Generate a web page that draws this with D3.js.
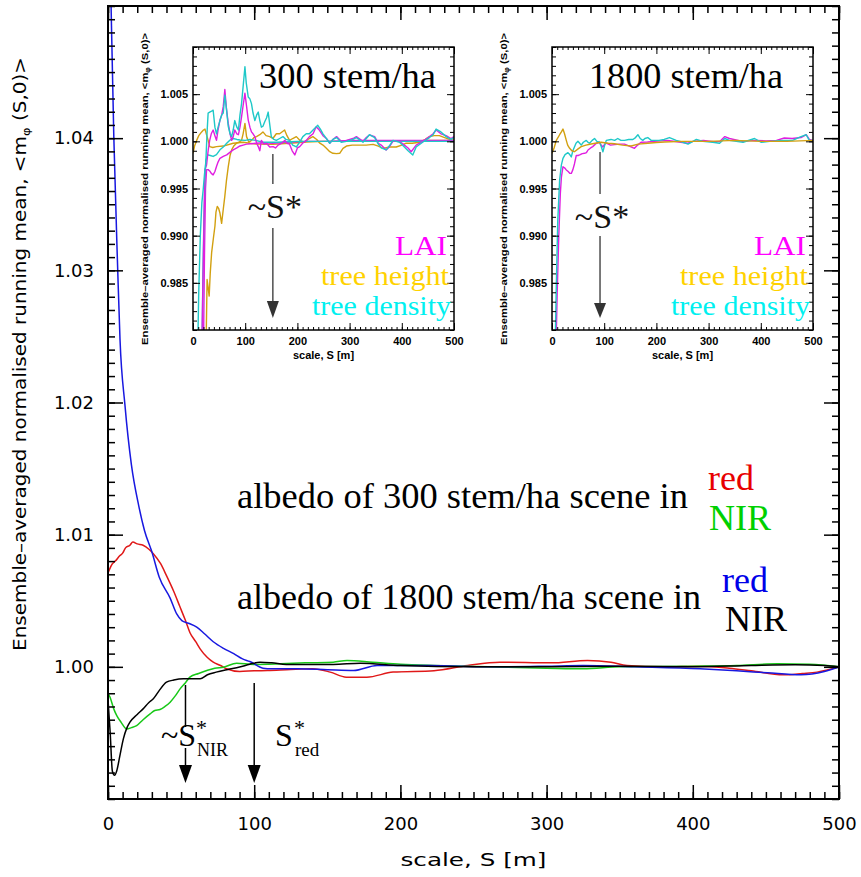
<!DOCTYPE html>
<html><head><meta charset="utf-8">
<script src="https://cdn.jsdelivr.net/npm/d3@7"></script>
<style>body{margin:0;background:#fff} svg{display:block}</style>
</head><body><svg id="c" width="861" height="877"></svg>
<script>
// ---------------- DATA ----------------
const mainXTicks = [0, 100, 200, 300, 400, 500];
const mainYTicks = [1.00, 1.01, 1.02, 1.03, 1.04];
const insetXTicks = [0, 100, 200, 300, 400, 500];
const insetYTicks = [0.985, 0.990, 0.995, 1.000, 1.005];

// main panel: albedo running means  [S, value]
const albedo300Red = [[0,1.0071],[3,1.0078],[5,1.0080],[8,1.0084],[10,1.0086],[12,1.0090],[15,1.0092],[17,1.00945],[20,1.0093],[24,1.0092],[28,1.0089],[31,1.00856],[36,1.0078],[40,1.0069],[45,1.0057],[49,1.0046],[53,1.0035],[56,1.0026],[60,1.0019],[63,1.00136],[68,1.0007],[72,1.00035],[77,1.0001],[81,0.99985],[90,0.99965],[100,0.9997],[109,0.99972],[125,0.9998],[140,0.99985],[152,0.9996],[163,0.99922],[177,0.99922],[195,0.9996],[223,0.9997],[246,1.0001],[268,1.00035],[303,1.0003],[328,1.00048],[344,1.00035],[355,1.0001],[380,1.0000],[405,1.00005],[425,0.9999],[440,0.9997],[462,0.9994],[475,0.9995],[485,0.9996],[500,1.0000]];
const albedo300NIR = [[0,0.9980],[1.4,0.9977],[4,0.9968],[6,0.99631],[9,0.9958],[12.8,0.9953],[16,0.9954],[19.6,0.99555],[24,0.9960],[28.8,0.99644],[32,0.9967],[35.6,0.99677],[39,0.9970],[42.5,0.99732],[46,0.9978],[49.3,0.99833],[53,0.9988],[56,0.99922],[62,0.9995],[67.6,0.99972],[73,0.9999],[79,0.99997],[88,1.00028],[99.5,1.00018],[118,1.00023],[135,1.0003],[154,1.00035],[163.5,1.00048],[181,1.00035],[200,1.0002],[223,1.0001],[260,1.0000],[300,0.9999],[325,0.99985],[350,1.0000],[400,1.00005],[430,1.0001],[458,1.00023],[480,1.0002],[500,1.0000]];
const albedo1800Red = [[0,1.062],[2,1.0506],[4,1.0400],[6.6,1.0302],[8.2,1.0248],[11.6,1.0198],[16,1.0153],[21,1.0122],[25,1.0103],[30,1.0087],[35,1.0068],[42.5,1.0052],[47,1.0040],[50.5,1.0035],[55,1.0033],[60.7,1.0030],[66,1.0025],[72,1.0019],[79,1.0014],[86,1.0010],[92,1.0006],[97,1.0004],[106,0.9999],[112,0.99985],[130,0.99985],[150,0.99978],[168,0.99972],[184,1.0001],[220,1.0001],[260,1.0000],[300,1.00005],[325,1.0001],[360,1.0000],[405,0.99985],[430,0.9997],[451,0.99955],[474,0.9994],[490,0.99965],[500,1.0000]];
const albedo1800NIR = [[0,0.9975],[1.5,0.9950],[3,0.9921],[4.5,0.9918],[6,0.99214],[8,0.9932],[10.5,0.99455],[13,0.9954],[15,0.99581],[20,0.9964],[24,0.99682],[28,0.9973],[31,0.99758],[35,0.9982],[40,0.99884],[45,0.9990],[51.6,0.99909],[58,0.99909],[63,0.99909],[68,0.9994],[74,0.9996],[82,0.9998],[90,0.99998],[97,1.0002],[104,1.00035],[112,1.0003],[122,1.00018],[154,1.00018],[172.6,1.00028],[200,1.0001],[250,1.0000],[300,1.0000],[350,1.00005],[400,1.0000],[440,1.0001],[470,1.00015],[490,1.0001],[500,1.0000]];

// inset 300 stem/ha
const lai300a = [[16,0.975],[19,0.985],[22.9,0.997],[26,0.9975],[29,0.999],[32,1.0001],[35,1.0008],[38.6,1.0012],[42,1.0006],[45,1.0001],[48,1.0012],[51.6,1.00225],[55,1.0028],[58,1.0037],[61,1.0055],[64,1.0035],[67.5,1.0019],[71,1.0008],[74,1.0001],[77,1.0005],[80,1.0012],[84,1.0008],[87,1.0007],[90,1.0015],[93,1.0026],[96,1.0038],[99.5,1.0051],[102,1.0040],[105.8,1.00225],[109,1.0015],[112,1.001],[115,1.0008],[118.5,1.0005],[122,0.9998],[125,0.99944],[128,0.9990],[131,1.0001],[136,0.9997],[140.8,0.9998],[147,0.9994],[153.5,0.99944],[158,0.9993],[163,0.9996],[170,0.9998],[176,1.0001],[180,0.9998],[185,0.9997],[190,0.9990],[195,0.99856],[200,0.9993],[204.5,0.99944],[210,0.9998],[217,1.0001],[223,1.0005],[230,1.0008],[236,1.00155],[242,1.0012],[249,1.0006],[255.5,1.0003],[262,0.9998],[268,1.0002],[275,1.0005],[284,1.0000],[294,1.0001],[306.5,1.0003],[313,1.0005],[325.6,1.0000],[332,1.0004],[338,1.00067],[348,1.0005],[355,0.9998],[360.6,0.9996],[370,0.99908],[376,0.9994],[383,1.0000],[395.7,1.0000],[405,0.9996],[412,0.9993],[418,0.9989],[427.5,0.9996],[440,1.0000],[453,1.0005],[460,1.0008],[465.7,1.0012],[475,1.0008],[485,1.0006],[494,1.0003],[500,1.0005]];
const lai300b = [[19.5,0.975],[22,0.988],[24,0.995],[26,0.997],[29,0.9970],[32,0.99686],[35,0.9966],[38.6,0.99644],[42,0.9968],[45,0.99733],[48,0.9978],[51.6,0.9982],[58,0.9984],[64.6,0.99856],[70,0.9988],[77,0.9991],[84,0.9993],[90,0.99951],[96,0.9996],[102.6,0.9997],[112,0.99975],[121.6,0.9998],[135,0.99985],[153,0.9998],[180,0.9999],[220,1.0000],[260,1.0000],[300,1.0001],[350,1.0001],[400,1.0001],[450,1.0001],[500,1.0001]];
const height300a = [[24,0.975],[25.5,0.980],[27,0.98535],[29,0.9845],[31,0.9836],[33,0.9860],[35.7,0.9882],[39,0.9897],[42,0.991],[44,0.9925],[46.5,0.9931],[49,0.9929],[51.6,0.9924],[54.8,0.9913],[58,0.9928],[61,0.9942],[64,0.9958],[67.5,0.9973],[71,0.9985],[74,0.9991],[78,0.9995],[83.3,0.9998],[88,0.9999],[93,1.0001],[96,1.0008],[99.5,1.0019],[102.6,1.0005],[107,0.9999],[112,1.0001],[117,1.0004],[121.6,1.0005],[128,1.0007],[134,1.001],[140,1.0006],[147,1.0005],[153,1.0003],[159.6,1.0008],[166,1.0008],[175.5,1.0012],[180,1.0006],[185,1.0001],[191,1.0003],[198,1.0005],[205,1.0001],[213.8,0.9999],[220,1.0002],[229.7,1.0005],[237,1.0002],[243,0.9998],[249,0.9996],[255.5,0.99926],[262,0.9989],[268,0.99873],[275,0.9987],[281,0.99873],[287.4,0.99926],[294,0.9995],[305,0.9996],[319,0.9996],[332,0.9996],[345,0.99968],[355,0.9995],[364,0.99926],[376.6,0.9994],[389.3,0.9994],[400,0.9996],[408.5,0.9998],[420,0.9998],[434,0.9999],[445,1.0002],[453,1.0005],[462,1.0006],[472,1.0006],[482,1.0004],[491.4,1.0002],[500,1.0001]];
const height300b = [[0,0.99873],[3,0.9995],[7,1.0001],[11,1.0006],[16.6,1.001],[20,1.0012],[23,1.0013],[26,1.0007],[29,1.0001],[32,0.99944],[38,0.99935],[45,0.99944],[58,0.9995],[77,0.9998],[96,0.9999],[121.6,0.9997],[153,0.99968],[185,0.9998],[217,0.99993],[250,1.0000],[300,1.0000],[350,1.00002],[400,1.0000],[450,1.0001],[500,1.0001]];
const density300a = [[8,0.975],[11,0.984],[14,0.990],[17,0.9935],[19.5,0.99486],[22,0.9965],[24.5,0.9977],[27,1.0010],[29,1.003],[32,1.0031],[35.7,1.0032],[38.6,1.0033],[42,1.0015],[45,1.0008],[48,1.0015],[51.6,1.0022],[55,1.0028],[58,1.0030],[61,1.0049],[64,1.0035],[67.5,1.0016],[71,1.0008],[74,1.0005],[77,1.0012],[80,1.0022],[84,1.0015],[87,1.0012],[90,1.0028],[93,1.0040],[96,1.0058],[99.5,1.0079],[102,1.0062],[105.8,1.0047],[109,1.0045],[112,1.0040],[115,1.0030],[118.5,1.0022],[122,1.0028],[125,1.0031],[128,1.0022],[131,1.0015],[134,1.0016],[137.6,1.0021],[141,1.0025],[144,1.0031],[147,1.0018],[150,1.0005],[155,1.0002],[159.6,1.0001],[166,1.0003],[172.4,1.0005],[178,1.0002],[185,1.0001],[191,0.9996],[198,0.9994],[204,0.9999],[210.5,1.0005],[217,1.0008],[223,1.0008],[230,1.0012],[239,1.0017],[244,1.0013],[249,1.0008],[255.5,1.0003],[262,0.9998],[268,1.0002],[275,1.0004],[284,0.9999],[294,1.0000],[306.5,1.0002],[313,1.0004],[325.6,0.9999],[332,1.0003],[338,1.0007],[348,1.0004],[355,0.9997],[360.6,0.9993],[370,0.9991],[376,0.9995],[383,1.0001],[395.7,0.9999],[405,0.9994],[412,0.9990],[421,0.99856],[427.5,0.9994],[440,0.9999],[453,1.0004],[460,1.0007],[465.7,1.0013],[475,1.0010],[485,1.0005],[494,1.0002],[500,1.0004]];
const density300b = [[16.6,0.975],[19,0.986],[21,0.992],[23,0.996],[24.5,0.99796],[27,0.9984],[29,0.99856],[33,0.9985],[38.6,0.9984],[45,0.9986],[51.6,0.9991],[58,0.9994],[64.6,0.99979],[70,1.0001],[77,1.0003],[84,1.0002],[90,1.00014],[100,1.0001],[109,1.0002],[120,1.0001],[134,0.9999],[159.6,0.9999],[200,1.0000],[250,1.0000],[300,1.0000],[350,1.0000],[400,1.0000],[450,1.0000],[500,1.0000]];

// inset 1800 stem/ha
const lai1800 = [[6.4,0.975],[10,0.984],[13,0.990],[16,0.9945],[18,0.9962],[21,0.9973],[24,0.9972],[27.4,0.99697],[31,0.9968],[34,0.99662],[37,0.9966],[40,0.9970],[43,0.9976],[46.5,0.9985],[50,0.9985],[53,0.99856],[58,0.9987],[62.4,0.99873],[66,0.9988],[69,0.99908],[74,0.9993],[78,0.99944],[85,0.9998],[91,0.9999],[94,0.9996],[97.5,0.9994],[101,0.9997],[104,0.9998],[112,0.9996],[120,0.99965],[130,0.9997],[139,0.9997],[148,0.9995],[158,0.99926],[164,0.9996],[170.6,0.9999],[183,0.99993],[196,1.0000],[221,1.0001],[240,0.99995],[260,0.9998],[270,1.0000],[290,1.0001],[310,0.99995],[322,1.0000],[331,1.0005],[340,1.0003],[365,1.0000],[390,1.0001],[410,1.00005],[430,1.0001],[445,1.00035],[460,1.0003],[477,1.0004],[487,1.0007],[493,1.0002],[500,1.0001]];
const height1800 = [[0,0.99873],[4,0.9993],[8.3,1.0001],[14.6,1.0007],[18,1.0010],[21,1.0013],[24,1.0008],[27.4,1.0001],[30,0.9996],[33.8,0.99926],[38,0.9990],[43,0.9989],[50,0.9992],[56,0.99944],[65,0.9996],[75,0.99972],[94,0.9999],[108,0.9998],[120,0.99975],[135,0.9996],[151.6,0.9995],[165,0.9997],[183.5,0.9998],[200,0.99988],[215,0.99993],[250,1.0000],[300,1.0000],[350,1.0001],[400,1.0000],[450,1.0000],[500,1.0001]];
const density1800 = [[5,0.975],[8,0.984],[11,0.9915],[14.6,0.9959],[18,0.9975],[21,0.9982],[25,0.9986],[30.6,0.9988],[34,0.9986],[37,0.99835],[40,0.9990],[43,0.9994],[46,0.9998],[49.7,1.0000],[53,0.9998],[56,0.9996],[60,0.9999],[65.6,1.0001],[69,0.9999],[72,0.9998],[77,1.0001],[81.5,1.0003],[86,1.0000],[91,0.9999],[94,0.9995],[97.5,0.9989],[101,0.9996],[104,1.0001],[113,1.0002],[120,1.0001],[126,1.0003],[132,1.0001],[139,1.0001],[147,1.0002],[155,1.0002],[160,1.0004],[164.6,1.0007],[169,1.0003],[174,1.0001],[178,1.0003],[183.5,1.0004],[190,1.0001],[196,1.0001],[205,1.0001],[215,1.0002],[225,1.0004],[238,1.0001],[251,0.9999],[260.6,0.9997],[270,1.0000],[276.6,1.0002],[289,1.0000],[308,0.9999],[321,0.9998],[331,1.0003],[340,1.0001],[366,0.9999],[388,1.0003],[401,0.9999],[417,1.0000],[442,1.0001],[461,1.0001],[477,1.0005],[487,1.0007],[493,1.0001],[500,1.0001]];

// S* markers
const sStarNIR = 53, sStarRed = 100, sStar300 = 153, sStar1800 = 92;

// ---------------- DRAWING ----------------
const svg = d3.select("#c");
const defs = svg.append("defs");
const SERIF = "'Liberation Serif','Times New Roman',serif";
const SANS = "'DejaVu Sans',sans-serif";
const BOLD = "'Liberation Sans',Arial,sans-serif";

function idlAxes(g, x, y, o) {
  const [x0, x1] = x.range(), [y0, y1] = y.range(); // y0 bottom
  const xMinor = d3.range(x.domain()[0], x.domain()[1] + 1e-9, o.xMinorStep);
  const yMinor = d3.range(0, Math.round((y.domain()[1] - y.domain()[0]) / o.yMinorStep) + 1).map(i => y.domain()[0] + i * o.yMinorStep);
  const style = s => s.call(a => a.select(".domain").remove())
    .call(a => a.selectAll("line").attr("stroke", "#000").attr("stroke-width", o.tw));
  const lbl = a => a.selectAll("text").attr("font-family", o.font).attr("font-size", o.fs).attr("font-weight", o.fw).attr("fill", "#000");
  g.append("g").attr("transform", `translate(0,${y0})`)
    .call(d3.axisBottom(x).tickValues(xMinor).tickSize(-o.minX).tickFormat("")).call(style);
  g.append("g").attr("transform", `translate(0,${y0})`)
    .call(d3.axisBottom(x).tickValues(o.xMajor).tickSize(-o.majX).tickPadding(o.padX).tickFormat(d3.format("d"))).call(style).call(lbl);
  g.append("g").attr("transform", `translate(0,${y1})`)
    .call(d3.axisTop(x).tickValues(xMinor).tickSize(-o.minX).tickFormat("")).call(style);
  g.append("g").attr("transform", `translate(0,${y1})`)
    .call(d3.axisTop(x).tickValues(o.xMajor).tickSize(-o.majX).tickFormat("")).call(style);
  g.append("g").attr("transform", `translate(${x0},0)`)
    .call(d3.axisLeft(y).tickValues(yMinor).tickSize(-o.minY).tickFormat("")).call(style);
  g.append("g").attr("transform", `translate(${x0},0)`)
    .call(d3.axisLeft(y).tickValues(o.yMajor).tickSize(-o.majY).tickPadding(o.padY).tickFormat(d3.format(o.yFmt))).call(style).call(lbl);
  g.append("g").attr("transform", `translate(${x1},0)`)
    .call(d3.axisRight(y).tickValues(yMinor).tickSize(-o.minY).tickFormat("")).call(style);
  g.append("g").attr("transform", `translate(${x1},0)`)
    .call(d3.axisRight(y).tickValues(o.yMajor).tickSize(-o.majY).tickFormat("")).call(style);
  g.append("rect").attr("x", x0).attr("y", y1).attr("width", x1 - x0).attr("height", y0 - y1)
    .attr("fill", "none").attr("stroke", "#000").attr("stroke-width", o.fw_frame);
}

function arrow(g, xp, segs, headTop, headBot, w, col, sw) {
  segs.forEach(([a, b]) => g.append("line").attr("x1", xp).attr("x2", xp).attr("y1", a).attr("y2", b)
    .attr("stroke", col).attr("stroke-width", sw));
  g.append("path").attr("d", `M${xp - w / 2},${headTop}L${xp + w / 2},${headTop}L${xp},${headBot}Z`).attr("fill", col);
}

// ---- main panel ----
const M = { l: 108, r: 839, t: 6, b: 799 };
const x = d3.scaleLinear().domain([0, 500]).range([M.l, M.r]);
const y = d3.scaleLinear().domain([0.990, 1.050]).range([M.b, M.t]);
const main = svg.append("g");
defs.append("clipPath").attr("id", "clipMain").append("rect")
  .attr("x", M.l).attr("y", M.t).attr("width", M.r - M.l).attr("height", M.b - M.t);

const lineMain = d3.line().x(d => x(d[0])).y(d => y(d[1])).curve(d3.curveMonotoneX);
const mainSeries = [
  [albedo300Red, "#e01818"], [albedo300NIR, "#18c818"], [albedo1800Red, "#1818e0"], [albedo1800NIR, "#000"]
];
const mg = main.append("g").attr("clip-path", "url(#clipMain)");
mainSeries.forEach(([d, c]) => mg.append("path").datum(d).attr("d", lineMain)
  .attr("fill", "none").attr("stroke", c).attr("stroke-width", 1.5));

idlAxes(main, x, y, {
  xMajor: mainXTicks, yMajor: mainYTicks, xMinorStep: 10, yMinorStep: 0.001,
  majX: 14, minX: 7, majY: 15, minY: 7, padX: 18, padY: 14, yFmt: ".2f",
  font: SANS, fs: 18, fw: "normal", tw: 1.5, fw_frame: 2
});

// axis titles
svg.append("text").attr("x", (M.l + M.r) / 2).attr("y", 866).attr("text-anchor", "middle")
  .attr("font-family", SANS).attr("font-size", 18).attr("textLength", 146).attr("lengthAdjust", "spacingAndGlyphs")
  .text("scale, S [m]");
const yl = svg.append("text").attr("transform", "translate(26,354) rotate(-90)").attr("text-anchor", "middle")
  .attr("font-family", SANS).attr("font-size", 17).attr("textLength", 594).attr("lengthAdjust", "spacingAndGlyphs");
yl.append("tspan").text("Ensemble\u2013averaged normalised running mean, <m");
yl.append("tspan").attr("font-size", 11).attr("dy", 4).text("\u03c6");
yl.append("tspan").attr("dy", -4).text(" (S,0)>");

// main annotations
const ann = (t, xp, yp, col, fs, len) => {
  const e = svg.append("text").attr("x", xp).attr("y", yp).attr("font-family", SERIF).attr("font-size", fs).attr("fill", col).text(t);
  if (len) e.attr("textLength", len).attr("lengthAdjust", "spacingAndGlyphs");
  return e;
};
ann("albedo of 300 stem/ha scene in", 237, 508, "#000", 36, 451);
ann("red", 708, 490, "#e80000", 36);
ann("NIR", 709, 530, "#00d000", 36);
ann("albedo of 1800 stem/ha scene in", 237, 609, "#000", 36, 464);
ann("red", 722, 592, "#0000e8", 36);
ann("NIR", 725, 631, "#000", 36);

// S* labels: star as superscript, label as subscript beneath it
function sStarLabel(xp, mainT, sub, subFs, starX) {
  ann(mainT, xp, 746, "#000", 32);
  ann("*", starX, 735, "#000", 22);
  ann(sub, starX + 1, 756, "#000", subFs);
}
sStarLabel(161, "~S", "NIR", 18, 196);
sStarLabel(275, "S", "red", 19, 294);
arrow(svg, x(sStarNIR), [[685, 727], [748, 766]], 765, 783, 13, "#000", 1.5);
arrow(svg, x(sStarRed), [[683, 766]], 765, 783, 13, "#000", 1.5);

// ---- insets ----
function inset(x0px, x1px, title, series, sStar, starY, arrowSegs, ylCx) {
  const T = 47, B = 330;
  const xi = d3.scaleLinear().domain([0, 500]).range([x0px, x1px]);
  const yi = d3.scaleLinear().domain([0.980, 1.010]).range([B, T]);
  const g = svg.append("g");
  g.append("rect").attr("x", x0px).attr("y", T).attr("width", x1px - x0px).attr("height", B - T).attr("fill", "#fff");
  const id = "clip" + Math.round(x0px);
  defs.append("clipPath").attr("id", id).append("rect")
    .attr("x", x0px).attr("y", T).attr("width", x1px - x0px).attr("height", B - T);
  const li = d3.line().x(d => xi(d[0])).y(d => yi(d[1]));
  const lg = g.append("g").attr("clip-path", `url(#${id})`);
  series.forEach(([d, c]) => lg.append("path").datum(d).attr("d", li)
    .attr("fill", "none").attr("stroke", c).attr("stroke-width", 1.4).attr("stroke-linejoin", "round"));
  idlAxes(g, xi, yi, {
    xMajor: insetXTicks, yMajor: insetYTicks, xMinorStep: 10, yMinorStep: 0.001,
    majX: 7, minX: 3, majY: 7, minY: 4, padX: 7, padY: 5, yFmt: ".3f",
    font: BOLD, fs: 11, fw: "bold", tw: 1, fw_frame: 1.5
  });
  g.append("text").attr("x", (x0px + x1px) / 2).attr("y", 359).attr("text-anchor", "middle")
    .attr("font-family", BOLD).attr("font-weight", "bold").attr("font-size", 11).text("scale, S [m]");
  const t = g.append("text").attr("transform", `translate(${ylCx},189) rotate(-90)`).attr("text-anchor", "middle")
    .attr("font-family", BOLD).attr("font-weight", "bold").attr("font-size", 9.5)
    .attr("textLength", 312).attr("lengthAdjust", "spacingAndGlyphs");
  t.append("tspan").text("Ensemble\u2013averaged normalised running mean, <m");
  t.append("tspan").attr("font-size", 6.5).attr("dy", 2).text("\u03c6");
  t.append("tspan").attr("dy", -2).text(" (S,0)>");
  g.append("text").attr("x", title.x).attr("y", 88).attr("font-family", SERIF).attr("font-size", 36)
    .attr("textLength", title.w).attr("lengthAdjust", "spacingAndGlyphs").text(title.t);
  const sx = xi(sStar);
  g.append("text").attr("x", sx + 2).attr("y", starY).attr("text-anchor", "middle").attr("font-family", SERIF)
    .attr("font-size", 34).attr("fill", "#111").text("~S*");
  arrow(g, sx, arrowSegs, arrowSegs[1][1], 318, 12, "#333", 1.3);
  // legend
  const lgx = x1px - 7;
  [["LAI", "#ff00ff", 255, 52], ["tree height", "#ffd200", 285, 128], ["tree density", "#00f0f0", 315, 139]].forEach(([s, c, yy, w], i) =>
    g.append("text").attr("x", lgx + i * 2).attr("y", yy).attr("text-anchor", "end").attr("font-family", SERIF)
      .attr("font-size", 27).attr("textLength", w).attr("lengthAdjust", "spacingAndGlyphs").attr("fill", c).text(s));
}

const MAG = "#e01ee0", CYA = "#1ec8c8", GLD = "#d2a010";
inset(193, 454, { t: "300 stem/ha", x: 259, w: 177 },
  [[height300b, GLD], [height300a, GLD], [lai300b, MAG], [density300b, CYA], [lai300a, MAG], [density300a, CYA]],
  sStar300, 218, [[154, 184], [228, 301]], 148);
inset(552, 813, { t: "1800 stem/ha", x: 589, w: 194 },
  [[lai1800, MAG], [density1800, CYA], [height1800, GLD]],
  sStar1800, 228, [[152, 194], [236, 303]], 507);
</script></body></html>
